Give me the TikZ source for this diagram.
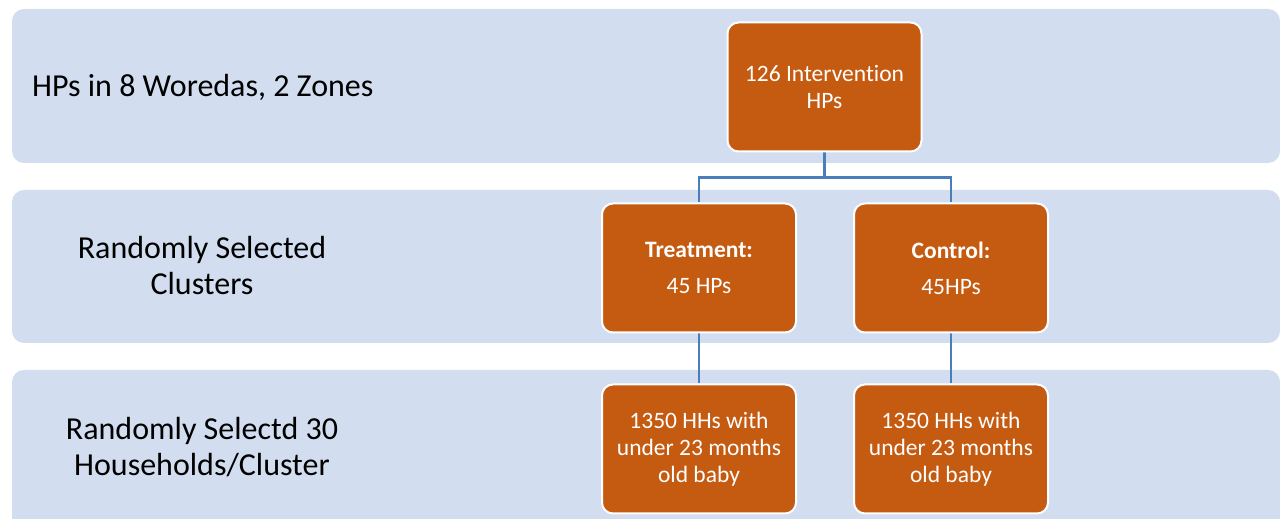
\documentclass[tikz,border=0pt]{standalone}
\usepackage{fontspec}
\setmainfont{Carlito}[Ligatures=NoCommon]
\usetikzlibrary{backgrounds}
\definecolor{bandcol}{RGB}{210,222,239}
\definecolor{orangecol}{RGB}{197,90,17}
\definecolor{conncol}{RGB}{74,126,187}
\begin{document}
\begin{tikzpicture}[x=1pt,y=1pt,
  bandbox/.style={fill=bandcol, draw=none, rounded corners=12pt},
  obox/.style={fill=orangecol, draw=white, line width=2pt, rounded corners=11pt,
    minimum width=194pt, minimum height=129pt, text=white, align=center,
    font=\fontsize{23.5}{27}\selectfont, inner sep=0pt},
  connline/.style={draw=conncol, line width=2.8pt},
  lbl/.style={font=\fontsize{32}{36}\selectfont, align=center, text=black}]
\useasboundingbox (0,0) rectangle (1280,519);
\clip (0,0) rectangle (1280,519);
% labels
\node[lbl, anchor=west, inner sep=0pt] (l1) at (32,432) {HPs in 8 Woredas, 2 Zones};
\node[lbl] (l2) at (202,253) {Randomly Selected\\Clusters};
\node[lbl] (l3) at (202,72) {Randomly Selectd 30\\Households/Cluster};
% boxes
\node[obox] (top) at (824.5,432) {126 Intervention\\HPs};
\node[obox] (treat) at (699,251) {\textbf{Treatment:}\\[9pt]45 HPs};
\node[obox] (ctrl) at (951,251) {\textbf{Control:}\\[9pt]45HPs};
\node[obox] (hh1) at (699,70) {1350 HHs with\\under 23 months\\old baby};
\node[obox] (hh2) at (951,70) {1350 HHs with\\under 23 months\\old baby};
\begin{scope}[on background layer]
  % bands
  \path[bandbox] (12,510) rectangle (1280,356);
  \path[bandbox] (12,329) rectangle (1280,176);
  \path[bandbox] (12,149) rectangle (1280,-20);
  % connectors
  \coordinate (split) at ([yshift=-25pt]top.south);
  \draw[connline] (top.south) -- (split) -| (treat.north);
  \draw[connline] (split) -| (ctrl.north);
  \draw[connline] (treat.south) -- (hh1.north);
  \draw[connline] (ctrl.south) -- (hh2.north);
\end{scope}
\end{tikzpicture}
\end{document}
